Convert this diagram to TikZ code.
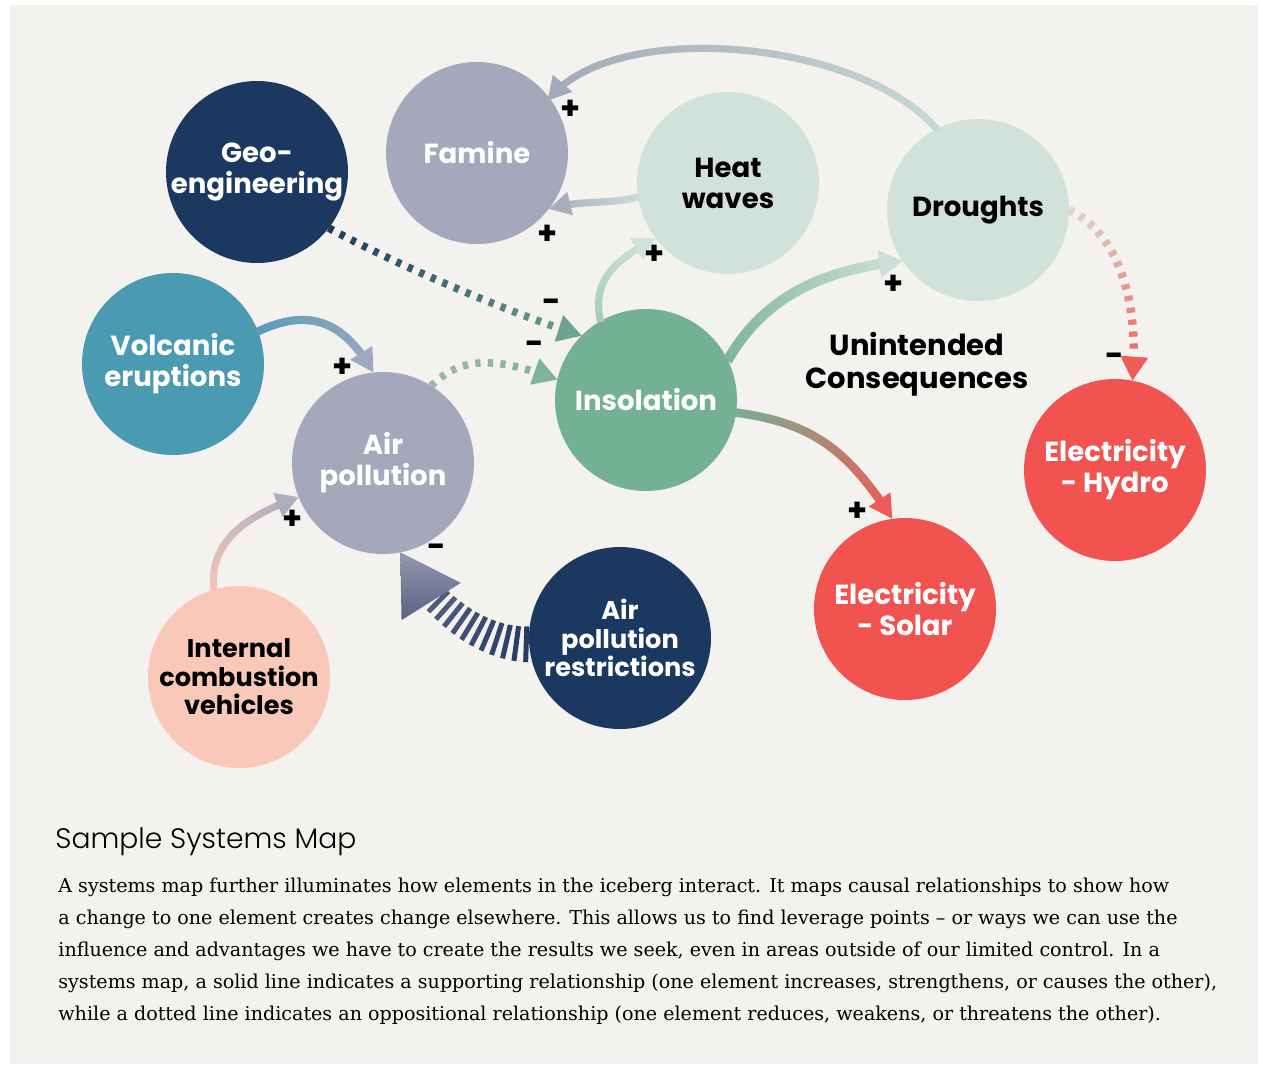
\documentclass[tikz,border=0pt]{standalone}
\usepackage{fontspec}
\setmainfont{DejaVu Serif}
\newfontfamily\pop{Poppins}
\newfontfamily\titlefont{Poppins Light}
\usetikzlibrary{decorations.markings}

\definecolor{panel}{HTML}{F4F2EE}
\definecolor{cnavy}{HTML}{1B3960}
\definecolor{cslate}{HTML}{A4A8BA}
\definecolor{cmint}{HTML}{D0E2DA}
\definecolor{cvolc}{HTML}{4A9BB2}
\definecolor{cinsol}{HTML}{74B094}
\definecolor{cred}{HTML}{F05350}
\definecolor{cpeach}{HTML}{F9C8B9}

% link colours
\definecolor{lkDrA}{HTML}{C5D9D3}\definecolor{lkDrB}{HTML}{A4A9BC}
\definecolor{lkHwA}{HTML}{CADBD6}\definecolor{lkHwB}{HTML}{A9ADBF}
\definecolor{lkInA}{HTML}{A5CCB9}\definecolor{lkInB}{HTML}{D2E3DC}
\definecolor{lkIdA}{HTML}{7DB59A}\definecolor{lkIdB}{HTML}{CDE0D8}
\definecolor{lkVoA}{HTML}{5A9DB8}\definecolor{lkVoB}{HTML}{A0A8BD}
\definecolor{lkIcA}{HTML}{F2C5B8}\definecolor{lkIcB}{HTML}{ACAEC0}
\definecolor{lkSoA}{HTML}{78AF93}\definecolor{lkSoB}{HTML}{EE5A55}
\definecolor{lkGeA}{HTML}{1B3A5F}\definecolor{lkGeB}{HTML}{6DA48F}
\definecolor{lkApA}{HTML}{A0B5AE}\definecolor{lkApB}{HTML}{7DB49B}
\definecolor{lkHyA}{HTML}{D6DBD2}\definecolor{lkHyB}{HTML}{EF5D57}
\definecolor{lkReA}{HTML}{243A61}\definecolor{lkReB}{HTML}{6A7190}
\definecolor{lkReL}{HTML}{9298B0}\definecolor{lkReD}{HTML}{5A6283}

% solid link: colour ramp along the path, triangular head at the end
% (the head mark sits 3pt before the end and is pushed forward by 3pt)
% #1 start colour, #2 end colour, #3 half width, #4 body stop,
% #5 head length, #6 head half width, #7 path
\newcommand\gradlink[7]{%
  \path[decoration={markings,
    mark=between positions 0pt and -#4 step 0.6pt with {%
      \pgfmathsetmacro\mixpct{100*(1-\pgfkeysvalueof{/pgf/decoration/mark info/distance from start}/\pgfdecoratedpathlength)}%
      \fill[#1!\mixpct!#2] (-0.45pt,-#3) rectangle (0.45pt,#3);},
    mark=at position -3pt with {\fill[#2,xshift=3pt] (0pt,0pt) -- (-#5,#6) -- (-#5,-#6) -- cycle;}},
    decorate] #7;}

% dotted link: short bars across the path
% #1 start colour, #2 end colour, #3 half length, #4 half width, #5 step,
% #6 dots stop, #7 head length, #8 head half width, #9 path
\newcommand\dotlink[9]{%
  \path[decoration={markings,
    mark=between positions #3 and -#6 step #5 with {%
      \pgfmathsetmacro\mixpct{100*(1-\pgfkeysvalueof{/pgf/decoration/mark info/distance from start}/\pgfdecoratedpathlength)}%
      \fill[#1!\mixpct!#2] (-#3,-#4) rectangle (#3,#4);},
    mark=at position -3pt with {\fill[#2,xshift=3pt] (0pt,0pt) -- (-#7,#8) -- (-#7,-#8) -- cycle;}},
    decorate] #9;}

\tikzset{
  bub/.style={circle, minimum size=91pt, inner sep=0pt, outer sep=0pt, align=center,
    font=\pop\bfseries\fontsize{13.8}{15.5}\selectfont},
  bubsmall/.style={bub, font=\pop\bfseries\fontsize{12.8}{14.2}\selectfont},
  sign/.style={font=\pop\bfseries\fontsize{16}{16}\selectfont, inner sep=0pt, text=black},
  bodyline/.style={anchor=base west, inner sep=0pt, font=\fontsize{9.55}{16}\selectfont},
}

\begin{document}
\begin{tikzpicture}[x=0.5pt, y=-0.5pt]
\useasboundingbox (0,0) rectangle (1263,1067);
\fill[white] (0,0) rectangle (1263,1067);
\fill[panel] (10,5) rectangle (1258,1064);

% elements of the system
\node[bub, fill=cnavy, text=white] (geo) at (257,172) {Geo-\\engineering};
\node[bub, fill=cslate, text=white] (famine) at (477,153) {Famine};
\node[bub, fill=cmint, text=black] (heat) at (728,183) {Heat\\waves};
\node[bub, fill=cmint, text=black] (drought) at (978,210) {Droughts};
\node[bub, fill=cvolc, text=white] (volc) at (173,364) {Volcanic\\eruptions};
\node[bub, fill=cslate, text=white] (airpol) at (383,463) {Air\\pollution};
\node[bub, fill=cinsol, text=white] (insol) at (646,400) {Insolation};
\node[bub, fill=cred, text=white] (solar) at (905,609) {Electricity\\- Solar};
\node[bub, fill=cred, text=white] (hydro) at (1115,470) {Electricity\\- Hydro};
\node[bubsmall, fill=cnavy, text=white] (restr) at (620,638) {Air\\pollution\\restrictions};
\node[bubsmall, fill=cpeach, text=black] (icv) at (239,677) {Internal\\combustion\\vehicles};

\node[align=center, inner sep=0pt, font=\pop\bfseries\fontsize{14.5}{16.5}\selectfont] (unint) at (917,364) {Unintended\\Consequences};

% supporting links
\gradlink{lkDrA}{lkDrB}{1.75pt}{7pt}{11.5pt}{6.5pt}{(drought.117) .. controls +(-78,-90) and +(65,-80) .. (famine.37)}
\gradlink{lkHwA}{lkHwB}{1.75pt}{7pt}{11pt}{6pt}{(heat.189) .. controls +(-35,8) and +(35,-10) .. (famine.-38)}
\gradlink{lkInA}{lkInB}{1.75pt}{7pt}{11pt}{6.5pt}{(insol.120) .. controls +(-10,-45) and +(-35,21) .. (heat.217)}
\gradlink{lkIdA}{lkIdB}{2.5pt}{7pt}{11.5pt}{7pt}{(insol.26) .. controls +(40,-70) and +(-70,8) .. (drought.214)}
\gradlink{lkVoA}{lkVoB}{2pt}{7pt}{11.5pt}{6.5pt}{(volc.21) .. controls +(60,-28) and +(-25,-42) .. (airpol.96)}
\gradlink{lkIcA}{lkIcB}{1.75pt}{7pt}{11pt}{6.5pt}{(icv.106) .. controls +(-6,-55) and +(-40,15) .. (airpol.202)}
\gradlink{lkSoA}{lkSoB}{2.1pt}{7pt}{11.5pt}{6.5pt}{(insol.-8) .. controls +(75,10) and +(-45,-70) .. (solar.98)}

% oppositional links
\dotlink{lkGeA}{lkGeB}{1.3pt}{1.9pt}{6.3pt}{12pt}{12pt}{7pt}{(geo.-38) .. controls +(70,38) and +(-70,-22) .. (insol.135)}
\dotlink{lkApA}{lkApB}{1.3pt}{1.9pt}{6.3pt}{12pt}{12pt}{7pt}{(airpol.58) .. controls +(35,-35) and +(-50,-18) .. (insol.167)}
\dotlink{lkHyA}{lkHyB}{1.3pt}{2.1pt}{6pt}{12pt}{12pt}{7pt}{(drought.0) .. controls +(45,20) and +(8,-85) .. (hydro.79)}

% restrictions acting on air pollution: heavy barred link
\path[decoration={markings,
    mark=between positions 1.5pt and -26pt step 5pt with {%
      \pgfmathsetmacro\mixpct{100*(1-\pgfkeysvalueof{/pgf/decoration/mark info/distance from start}/\pgfdecoratedpathlength)}%
      \pgfmathsetmacro\barh{6+3*\mixpct/100}%
      \fill[lkReA!\mixpct!lkReB] (-1.25pt,-\barh pt) rectangle (1.25pt,\barh pt);},
    mark=at position -3pt with {\shade[top color=lkReL, bottom color=lkReD, xshift=3pt] (0pt,0pt) -- (-29pt,17.5pt) -- (-29pt,-17.5pt) -- cycle;}},
    decorate] (restr.184) .. controls +(-45,0) and +(36,60) .. (airpol.-79);

% polarity marks
\node[sign] (p1) at (571,110) {+};
\node[sign] (p2) at (548,235) {+};
\node[sign] (p3) at (655,255) {+};
\node[sign] (p4) at (894,285) {+};
\node[sign] (m1) at (552,306) {-};
\node[sign] (m2) at (535,348) {-};
\node[sign] (p5) at (343,368) {+};
\node[sign] (p6) at (293,520) {+};
\node[sign] (m3) at (437,551) {-};
\node[sign] (p7) at (858,512) {+};
\node[sign] (m4) at (1115,360) {-};

% caption
\node[anchor=base west, inner sep=0pt, font=\titlefont\fontsize{14.1}{16}\selectfont] (title) at (55,848) {Sample Systems Map};
\node[bodyline] (t1) at (58,892) {A systems map further illuminates how elements in the iceberg interact. It maps causal relationships to show how};
\node[bodyline] (t2) at (58,924) {a change to one element creates change elsewhere. This allows us to find leverage points – or ways we can use the};
\node[bodyline] (t3) at (58,956) {influence and advantages we have to create the results we seek, even in areas outside of our limited control. In a};
\node[bodyline] (t4) at (58,988) {systems map, a solid line indicates a supporting relationship (one element increases, strengthens, or causes the other),};
\node[bodyline] (t5) at (58,1020) {while a dotted line indicates an oppositional relationship (one element reduces, weakens, or threatens the other).};
\end{tikzpicture}
\end{document}
